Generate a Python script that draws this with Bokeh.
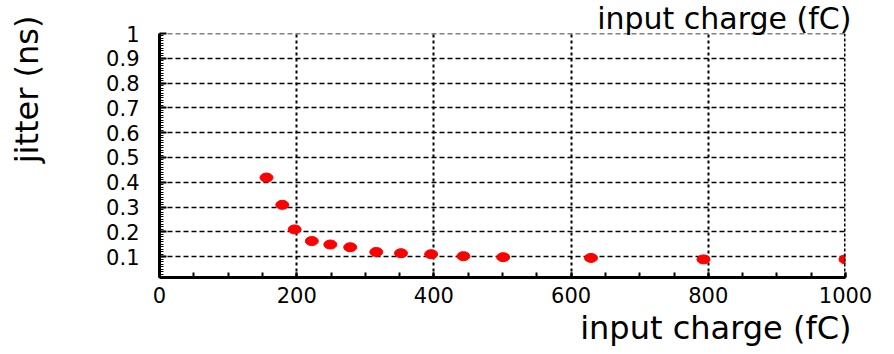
from bokeh.plotting import figure
from bokeh.models import (Range1d, FixedTicker, CustomJSTickFormatter, Span, Title,
                          ColumnDataSource, LinearAxis)
from bokeh.embed import file_html
from bokeh.resources import INLINE
import numpy as np

# data
charge_fc = [156, 179, 197, 222, 249, 278, 316, 352, 396, 443, 501, 629, 793, 1000]
jitter_ns = [0.419, 0.309, 0.21, 0.163, 0.149, 0.138, 0.119, 0.114, 0.110, 0.102, 0.098, 0.095, 0.089, 0.089]

x_ticks = [0, 200, 400, 600, 800, 1000]
y_ticks = [0.1, 0.2, 0.3, 0.4, 0.5, 0.6, 0.7, 0.8, 0.9, 1.0]
x_label = "input charge (fC)"
y_label = "jitter (ns)"

FONT = "DejaVu Sans"
W, H = 886, 346
L, T = 159, 33
FW, FH = 686, 244
R, B = W - L - FW, H - T - FH

p = figure(width=W, height=H, output_backend="svg", toolbar_location=None,
           x_range=Range1d(0, 1000), y_range=Range1d(0.016, 1.0),
           min_border_left=L, min_border_right=R, min_border_top=T, min_border_bottom=B,
           frame_width=FW, frame_height=FH)
p.outline_line_color = None
p.background_fill_color = "white"
p.border_fill_color = "white"

# axes
p.xaxis.ticker = FixedTicker(ticks=x_ticks, minor_ticks=list(np.arange(0, 1001, 50)))
p.yaxis.ticker = FixedTicker(ticks=y_ticks, minor_ticks=list(np.round(np.arange(0.02, 1.0001, 0.01), 3)))
p.yaxis.formatter = CustomJSTickFormatter(code="return Math.abs(tick-1)<1e-9 ? '1' : tick.toFixed(1);")
for ax in (p.xaxis[0], p.yaxis[0]):
    ax.axis_line_width = 3
    ax.axis_line_color = "black"
    ax.major_tick_in = 7
    ax.major_tick_out = 0
    ax.minor_tick_in = 4
    ax.minor_tick_out = 0
    ax.major_tick_line_width = 2
    ax.minor_tick_line_width = 1
    ax.major_tick_line_color = "black"
    ax.minor_tick_line_color = "black"
    ax.major_label_text_font = FONT
    ax.major_label_text_font_size = "21px"
    ax.major_label_text_color = "black"
p.xaxis.major_tick_in = 5
p.xaxis.minor_tick_in = 5
p.xaxis.minor_tick_line_width = 2
p.xaxis.major_label_standoff = 9
p.yaxis.major_label_standoff = 20

# y label: an extra, otherwise invisible, left axis; leading no-break spaces lift the
# visible words towards the top of the frame as in the reference
NBSP = "\u00a0"
p.extra_y_ranges = {"lab": Range1d(0.016, 1.0)}
lab_axis = LinearAxis(y_range_name="lab", ticker=FixedTicker(ticks=[]),
                      axis_label=NBSP * 13 + y_label, axis_label_standoff=58,
                      axis_label_text_font=FONT, axis_label_text_font_size="32px",
                      axis_label_text_font_style="normal", axis_label_text_color="black",
                      axis_line_color=None, major_tick_line_color=None,
                      minor_tick_line_color=None, major_label_text_font_size="0px")
p.add_layout(lab_axis, "left")

# grid
p.ygrid.grid_line_color = "black"
p.ygrid.grid_line_dash = "5 3"
p.ygrid.grid_line_width = 1.3
p.xgrid.grid_line_color = "black"
p.xgrid.grid_line_dash = "3 3"
p.xgrid.grid_line_width = 2

# frame borders: right dotted thick, top dashed
p.add_layout(Span(location=1000, dimension="height", line_color="black",
                  line_width=3, line_dash="3 2"))
p.add_layout(Span(location=1.0, dimension="width", line_color="black",
                  line_width=1.3, line_dash="5 3"))

src = ColumnDataSource(dict(x=charge_fc, y=jitter_ns))
p.ellipse(x="x", y="y", width=13, height=9, width_units="screen", height_units="screen",
          source=src, fill_color="#ff0000", line_color="#ff0000")

# top and bottom texts as right-aligned titles
p.add_layout(Title(text=x_label, align="right", offset=-6, standoff=-4,
                   text_font=FONT, text_font_size="30px", text_font_style="normal",
                   text_color="black"), "above")
p.add_layout(Title(text=x_label, align="right", offset=-6, standoff=2,
                   text_font=FONT, text_font_size="32px", text_font_style="normal",
                   text_color="black"), "below")

open("out.html", "w").write(file_html(p, INLINE))
